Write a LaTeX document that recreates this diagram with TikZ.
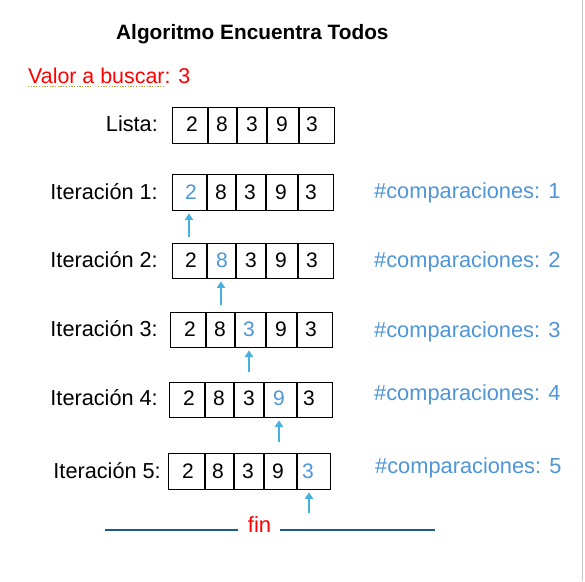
\documentclass[tikz,border=0pt]{standalone}
\usepackage{fontspec}
\setmainfont{Liberation Sans}
\usetikzlibrary{arrows.meta}
\definecolor{redtxt}{HTML}{FF0000}
\definecolor{bluetxt}{HTML}{4E95D9}
\definecolor{arrowblue}{HTML}{46B1E1}
\definecolor{finblue}{HTML}{1A5E86}
\definecolor{squig}{HTML}{BF9A3A}
\definecolor{edgegray}{HTML}{C8C8C8}
\tikzset{
 lbl/.style={anchor=base east, inner sep=0pt, font=\fontsize{21.7}{25}\selectfont},
 cmp/.style={anchor=base west, inner sep=0pt, text=bluetxt, font=\fontsize{21.8}{25}\selectfont},
 digit/.style={anchor=base, inner sep=0pt, font=\fontsize{21}{24}\selectfont},
 hit/.style={digit, text=bluetxt},
 cellbox/.style={draw=black, line width=1.3pt, inner sep=0pt, anchor=north west},
 divider/.style={draw=black, line width=2pt},
 pointer/.style={draw=arrowblue, line width=2.2pt, -{Triangle[width=8pt,length=6.5pt]}},
 finline/.style={draw=finblue, line width=2pt},
 squiggle/.style={draw=squig, line width=1.3pt, dash pattern=on 1.3pt off 1.4pt},
}
\begin{document}
\begin{tikzpicture}[x=1pt,y=-1pt]
\useasboundingbox (0,0) rectangle (585,581);
\fill[white] (0,0) rectangle (585,581);
\draw[edgegray, line width=1.5pt] (582.5,0) -- (582.5,581);

% title
\node[anchor=base west, inner sep=0pt, font=\fontsize{20.8}{24}\selectfont\bfseries] (title) at (116,39) {Algoritmo Encuentra Todos};

% value to search
\node[anchor=base west, inner sep=0pt, text=redtxt, font=\fontsize{21.4}{25}\selectfont] (valor) at (28,83) {Valor a buscar: 3};
\draw[squiggle] (28,86.5) -- (92,86.5);
\draw[squiggle] (98,86.5) -- (165,86.5);

% Lista
\node[lbl] (L0) at (158,131) {Lista:};
\node[cellbox, minimum width=162pt, minimum height=36pt] (B0) at (172,107) {};
\foreach \d in {208,237,267,299} \draw[divider] (\d,107) -- (\d,143);
\foreach \x/\v [count=\i] in {192/2,222/8,252/3,282/9,312/3}
  \node[digit] (D0\i) at (\x,131) {\v};

% Iteracion 1
\node[lbl] (L1) at (158,199) {Iteración 1:};
\node[cellbox, minimum width=161pt, minimum height=36pt] (B1) at (172,174) {};
\foreach \d in {207,236,266,298} \draw[divider] (\d,174) -- (\d,210);
\node[hit] (D11) at (191,199) {2};
\foreach \x/\v [count=\i from 2] in {221/8,250/3,281/9,311/3}
  \node[digit] (D1\i) at (\x,199) {\v};
\node[cmp] (C1) at (374,198) {\#comparaciones: 1};
\coordinate (P1) at (189,237);
\draw[pointer] (P1) -- ([yshift=-2pt]P1 |- B1.south);

% Iteracion 2
\node[lbl] (L2) at (158,267) {Iteración 2:};
\node[cellbox, minimum width=161pt, minimum height=35pt] (B2) at (172,243) {};
\foreach \d in {207,236,266,298} \draw[divider] (\d,243) -- (\d,278);
\node[digit] (D21) at (191,267) {2};
\node[hit] (D22) at (222,267) {8};
\foreach \x/\v [count=\i from 3] in {251/3,281/9,312/3}
  \node[digit] (D2\i) at (\x,267) {\v};
\node[cmp] (C2) at (374,267) {\#comparaciones: 2};
\coordinate (P2) at (221,305);
\draw[pointer] (P2) -- ([yshift=-2pt]P2 |- B2.south);

% Iteracion 3
\node[lbl] (L3) at (158,336) {Iteración 3:};
\node[cellbox, minimum width=162pt, minimum height=35pt] (B3) at (170,312) {};
\foreach \d in {206,235,266,297} \draw[divider] (\d,312) -- (\d,347);
\node[digit] (D31) at (190,336) {2};
\node[digit] (D32) at (220,336) {8};
\node[hit] (D33) at (249,336) {3};
\node[digit] (D34) at (281,336) {9};
\node[digit] (D35) at (311,336) {3};
\node[cmp] (C3) at (374,337) {\#comparaciones: 3};
\coordinate (P3) at (249,372);
\draw[pointer] (P3) -- ([yshift=-2pt]P3 |- B3.south);

% Iteracion 4
\node[lbl] (L4) at (158,405) {Iteración 4:};
\node[cellbox, minimum width=163pt, minimum height=35pt] (B4) at (169,382) {};
\foreach \d in {205,234,264,297} \draw[divider] (\d,382) -- (\d,417);
\node[digit] (D41) at (189,405) {2};
\node[digit] (D42) at (219,405) {8};
\node[digit] (D43) at (249,405) {3};
\node[hit] (D44) at (279,405) {9};
\node[digit] (D45) at (309,405) {3};
\node[cmp] (C4) at (374,400) {\#comparaciones: 4};
\coordinate (P4) at (279,442);
\draw[pointer] (P4) -- ([yshift=-2pt]P4 |- B4.south);

% Iteracion 5
\node[lbl] (L5) at (161,478) {Iteración 5:};
\node[cellbox, minimum width=162pt, minimum height=36pt] (B5) at (168,453) {};
\foreach \d in {205,234,264,297} \draw[divider] (\d,453) -- (\d,489);
\foreach \x/\v [count=\i] in {188/2,218/8,248/3,278/9}
  \node[digit] (D5\i) at (\x,478) {\v};
\node[hit] (D55) at (308,478) {3};
\node[cmp] (C5) at (375,473) {\#comparaciones: 5};
\coordinate (P5) at (309,513);
\draw[pointer] (P5) -- ([yshift=-2pt]P5 |- B5.south);

% fin
\node[anchor=base, inner sep=0pt, text=redtxt, font=\fontsize{22}{26}\selectfont] (fin) at (259.5,532) {fin};
\coordinate (FL) at (105,530);
\coordinate (FR) at (435,530);
\draw[finline] (FL) -- ([xshift=-10pt]FL -| fin.west);
\draw[finline] ([xshift=9pt]FR -| fin.east) -- (FR);
\end{tikzpicture}
\end{document}
